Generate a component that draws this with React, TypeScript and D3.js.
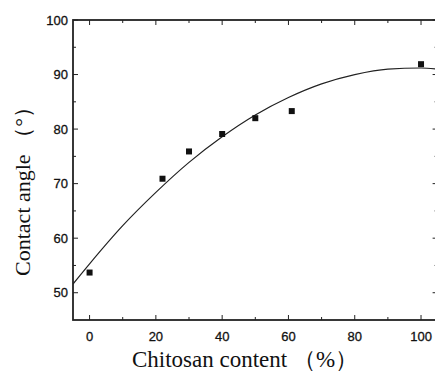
import React from "react";
import * as d3 from "d3";

const chitosan = [0, 22, 30, 40, 50, 61, 100];
const contactAngle = [53.7, 70.9, 75.9, 79.1, 82.0, 83.3, 91.9];
const fitX = [-5, 0, 10, 20, 30, 40, 50, 60, 70, 80, 90, 100, 105];
const fitY = [51.6, 55.3, 62.3, 68.4, 73.9, 78.6, 82.6, 85.8, 88.3, 90.0, 91.0, 91.2, 91.0];
const xTicks = [0, 20, 40, 60, 80, 100];
const yTicks = [50, 60, 70, 80, 90, 100];
const xMinor = [10, 30, 50, 70, 90];
const yMinor = [55, 65, 75, 85, 95];

const W = 435, H = 372;
const left = 73, right = 437.6, top = 20, bottom = 320;

export default function App() {
  const x = d3.scaleLinear().domain([-5, 105]).range([left, right]);
  const y = d3.scaleLinear().domain([45, 100]).range([bottom, top]);
  const line = d3.line<number>().x((d) => x(fitX[d])).y((d) => y(fitY[d])).curve(d3.curveMonotoneX);
  const idx = fitX.map((_, i) => i);
  const tickFont = "'Liberation Sans', Arial, sans-serif";
  const serif = "'Liberation Serif', 'Times New Roman', serif";
  const stroke = "#222";
  return (
    <svg width={W} height={H} style={{ position: "absolute", left: 0, top: 0, background: "#fff" }}>
      <defs>
        <clipPath id="plot">
          <rect x={left} y={top} width={right - left} height={bottom - top} />
        </clipPath>
      </defs>
      <rect x={left} y={top} width={right - left} height={bottom - top} fill="none" stroke={stroke} strokeWidth={1.8} />
      {xTicks.map((t) => (
        <g key={"xt" + t}>
          <line x1={x(t)} x2={x(t)} y1={bottom} y2={bottom - 5} stroke={stroke} strokeWidth={1} />
          <line x1={x(t)} x2={x(t)} y1={top} y2={top + 5} stroke={stroke} strokeWidth={1} />
          <text x={x(t)} y={341} textAnchor="middle" fontFamily={tickFont} fontSize={13} fill="#111" stroke="#111" strokeWidth={0.3}>{t}</text>
        </g>
      ))}
      {xMinor.map((t) => (
        <g key={"xm" + t}>
          <line x1={x(t)} x2={x(t)} y1={bottom} y2={bottom - 3} stroke={stroke} strokeWidth={1} />
          <line x1={x(t)} x2={x(t)} y1={top} y2={top + 3} stroke={stroke} strokeWidth={1} />
        </g>
      ))}
      {yTicks.map((t) => (
        <g key={"yt" + t}>
          <line x1={left} x2={left + 5} y1={y(t)} y2={y(t)} stroke={stroke} strokeWidth={1} />
          <line x1={right} x2={right - 5} y1={y(t)} y2={y(t)} stroke={stroke} strokeWidth={1} />
          <text x={68} y={y(t) + 4.5} textAnchor="end" fontFamily={tickFont} fontSize={13} fill="#111" stroke="#111" strokeWidth={0.3}>{t}</text>
        </g>
      ))}
      {yMinor.map((t) => (
        <g key={"ym" + t}>
          <line x1={left} x2={left + 3} y1={y(t)} y2={y(t)} stroke={stroke} strokeWidth={1} />
          <line x1={right} x2={right - 3} y1={y(t)} y2={y(t)} stroke={stroke} strokeWidth={1} />
        </g>
      ))}
      <path d={line(idx) || ""} fill="none" stroke="#222" strokeWidth={1.2} clipPath="url(#plot)" />
      {chitosan.map((c, i) => (
        <rect key={"p" + i} x={x(c) - 3} y={y(contactAngle[i]) - 3} width={6} height={6} fill="#111" />
      ))}
      <text x={245} y={367} textAnchor="middle" fontFamily={serif} fontSize={23} fill="#111">Chitosan content （%）</text>
      <text transform={`translate(30,186) rotate(-90)`} textAnchor="middle" fontFamily={serif} fontSize={22} fill="#111">Contact angle （°）</text>
    </svg>
  );
}
